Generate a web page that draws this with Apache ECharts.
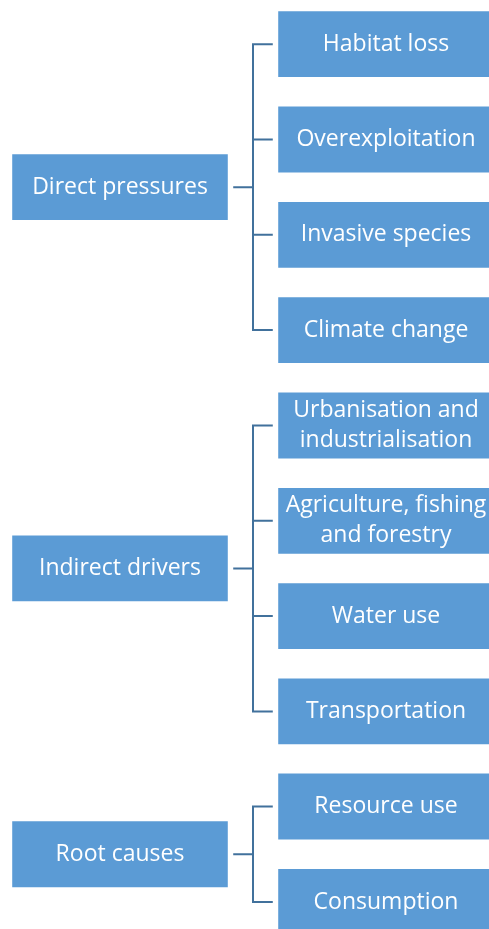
<!DOCTYPE html>
<html>
<head>
<meta charset="utf-8">
<script src="https://cdn.jsdelivr.net/npm/echarts@6/dist/echarts.min.js"></script>
<style>
html,body{margin:0;padding:0;background:#fff;}
#chart{width:489px;height:929px;}
</style>
</head>
<body>
<div id="chart"></div>
<script>
const groups = ['Direct pressures', 'Indirect drivers', 'Root causes'];
const groupChildren = [
  ['Habitat loss', 'Overexploitation', 'Invasive species', 'Climate change'],
  ['Urbanisation and\nindustrialisation', 'Agriculture, fishing\nand forestry', 'Water use', 'Transportation'],
  ['Resource use', 'Consumption']
];

const FILL = '#5B9BD5';
const LINE = '#41719C';
const boxSize = [221, 67.5];
const labelStyle = {
  show: true,
  position: 'inside',
  color: '#ffffff',
  fontFamily: 'Open Sans',
  fontSize: 23,
  lineHeight: 30
};

// vertical placement of each tree block (layout box)
const blocks = [
  { top: -3.45, bottom: 551.25 },
  { top: 377.85, bottom: 169.95 },
  { top: 758.75, bottom: -20.75 }
];

const series = groups.map(function (g, i) {
  return {
    type: 'tree',
    orient: 'LR',
    left: 120,
    right: 103,
    top: blocks[i].top,
    bottom: blocks[i].bottom,
    edgeShape: 'polyline',
    edgeForkPosition: '50%',
    expandAndCollapse: false,
    initialTreeDepth: -1,
    roam: false,
    animation: false,
    symbol: 'rect',
    symbolSize: boxSize,
    itemStyle: { color: FILL, borderColor: '#ffffff', borderWidth: 3 },
    lineStyle: { color: LINE, width: 2, curveness: 0 },
    label: labelStyle,
    leaves: { label: labelStyle },
    emphasis: { disabled: true },
    data: [{
      name: g,
      children: groupChildren[i].map(function (c) { return { name: c }; })
    }]
  };
});

const chart = echarts.init(document.getElementById('chart'), null, { renderer: 'canvas' });
chart.setOption({
  backgroundColor: '#ffffff',
  tooltip: { show: false },
  series: series
});
</script>
</body>
</html>
